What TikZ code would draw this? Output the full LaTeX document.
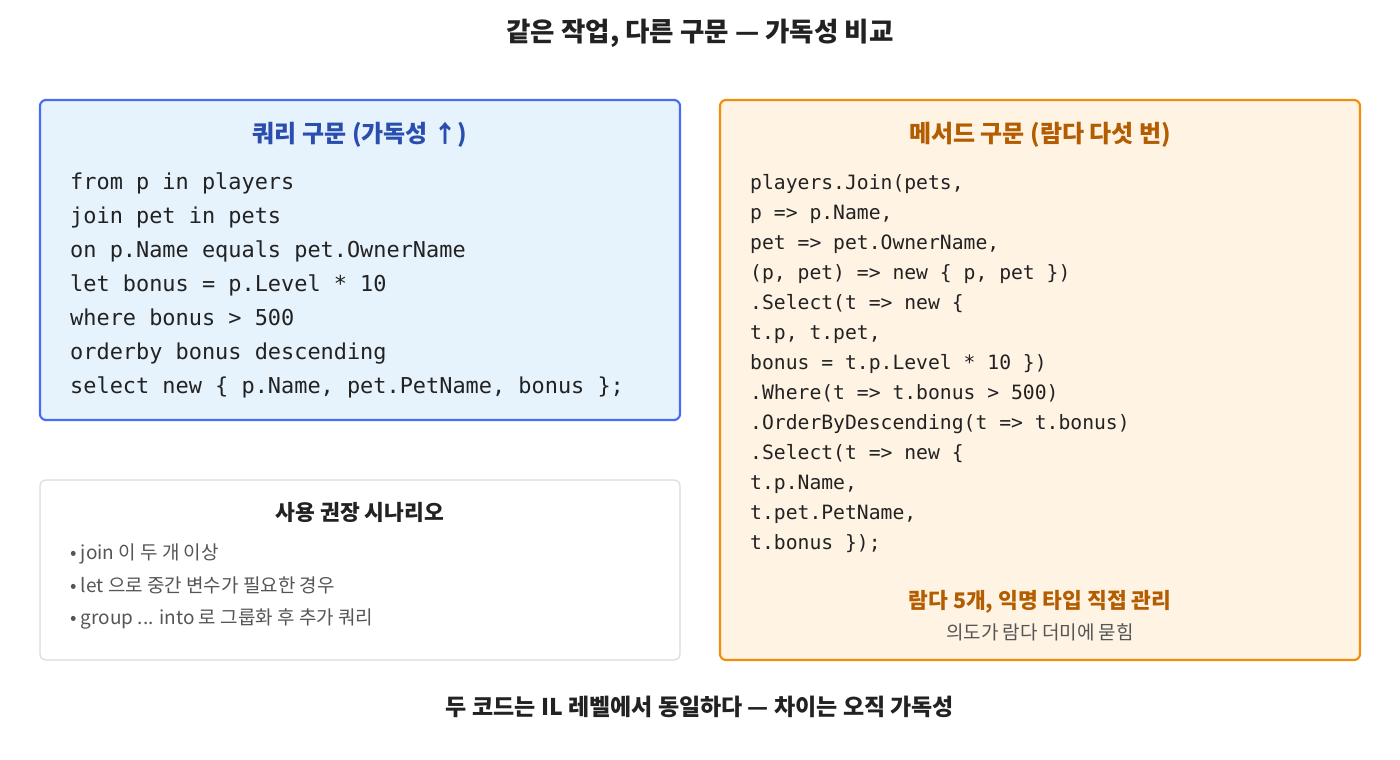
\documentclass[tikz,border=0pt]{standalone}
\usepackage{fontspec}
\setmainfont{Noto Sans CJK KR}
\setmonofont{DejaVu Sans Mono}
\definecolor{bluebd}{HTML}{4A6CF0}
\definecolor{bluebg}{HTML}{E6F3FD}
\definecolor{bluetx}{HTML}{2A4DB0}
\definecolor{orbd}{HTML}{F0900A}
\definecolor{orbg}{HTML}{FFF3E4}
\definecolor{ortx}{HTML}{B35C00}
\definecolor{dark}{HTML}{222222}
\definecolor{grytx}{HTML}{555555}
\tikzset{
 box/.style={rounded corners=6pt,line width=2.2pt},
 codeL/.style={anchor=west,inner sep=0pt,text height=0.75em,text depth=0.25em,font=\ttfamily\fontsize{21.9}{24}\selectfont,text=dark},
 codeR/.style={anchor=west,inner sep=0pt,text height=0.75em,text depth=0.25em,font=\ttfamily\fontsize{19.7}{22}\selectfont,text=dark},
 bul/.style={anchor=west,inner sep=0pt,text height=0.8em,text depth=0.25em,font=\fontsize{19}{22}\selectfont,text=grytx},
}
\begin{document}
\begin{tikzpicture}[x=1pt,y=-1pt]
\useasboundingbox (0,0) rectangle (1400,760);
\node (title) at (700,33) {\fontsize{26.5}{30}\selectfont\bfseries\color{dark}같은 작업, 다른 구문 — 가독성 비교};
\draw[box,draw=bluebd,fill=bluebg] (40,100) rectangle (680,420);
\node (lt) at (360,135) {\fontsize{24}{28}\selectfont\bfseries\color{bluetx}쿼리 구문 (가독성 ↑)};
\foreach \t [count=\i from 0] in {from p in players,join pet in pets,on p.Name equals pet.OwnerName,let bonus = p.Level * 10,where bonus > 500,orderby bonus descending,{select new \{ p.Name, pet.PetName, bonus \};}}
  \node[codeL] (l\i) at (70,{187+34*\i}) {\t};
\draw[rounded corners=6pt,line width=1.2pt,draw=black!14,fill=white] (40,480) rectangle (680,660);
\node (st) at (360,512) {\fontsize{21.5}{25}\selectfont\bfseries\color{dark}사용 권장 시나리오};
\node[bul] (b1) at (70,557) {• join 이 두 개 이상};
\node[bul] (b2) at (70,590) {• let 으로 중간 변수가 필요한 경우};
\node[bul] (b3) at (70,622) {• group ... into 로 그룹화 후 추가 쿼리};
\draw[box,draw=orbd,fill=orbg] (720,100) rectangle (1360,660);
\node (rt) at (1040,135) {\fontsize{24}{28}\selectfont\bfseries\color{ortx}메서드 구문 (람다 다섯 번)};
\foreach \t [count=\i from 0] in {{players.Join(pets,},{p => p.Name,},{pet => pet.OwnerName,},{(p, pet) => new \{ p, pet \})},{.Select(t => new \{},{t.p, t.pet,},{bonus = t.p.Level * 10 \})},{.Where(t => t.bonus > 500)},{.OrderByDescending(t => t.bonus)},{.Select(t => new \{},{t.p.Name,},{t.pet.PetName,},{t.bonus \});}}
  \node[codeR] (r\i) at (750,{187+30*\i}) {\t};
\node (rn1) at (1040,602) {\fontsize{21.5}{25}\selectfont\bfseries\color{ortx}람다 5개, 익명 타입 직접 관리};
\node (rn2) at (1040,632) {\fontsize{19}{22}\selectfont\color{grytx}의도가 람다 더미에 묻힘};
\node (foot) at (700,707) {\fontsize{23}{27}\selectfont\bfseries\color{dark}두 코드는 IL 레벨에서 동일하다 — 차이는 오직 가독성};
\end{tikzpicture}
\end{document}
